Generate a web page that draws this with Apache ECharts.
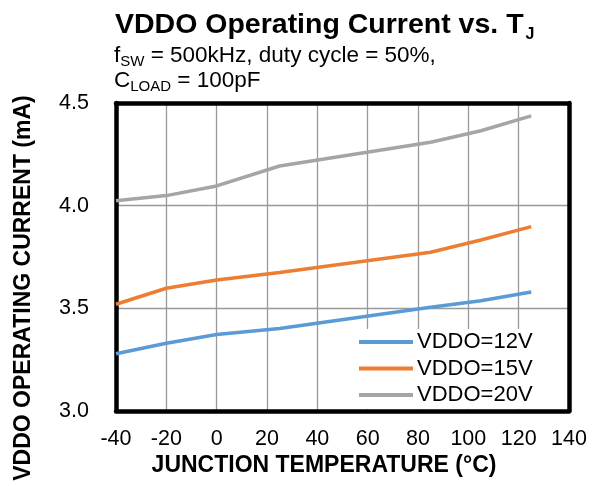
<!DOCTYPE html>
<html><head><meta charset="utf-8">
<script src="https://cdn.jsdelivr.net/npm/echarts@6/dist/echarts.min.js"></script>
<style>html,body{margin:0;padding:0;background:#fff}#c{width:592px;height:486px}</style>
</head><body><div id="c"></div>
<script>
const temps = [-40, -20, 0, 25, 85, 105, 125];
const vddo12 = [3.279, 3.33, 3.373, 3.402, 3.505, 3.537, 3.58];
const vddo15 = [3.52, 3.598, 3.638, 3.675, 3.773, 3.833, 3.898];
const vddo20 = [4.024, 4.049, 4.096, 4.193, 4.309, 4.365, 4.437];
const seriesNames = ['VDDO=12V', 'VDDO=15V', 'VDDO=20V'];
const colors = ['#5B9BD5', '#ED7D31', '#A5A5A5'];
const xTicks = {min: -40, max: 140, interval: 20};
const yTicks = {min: 3.0, max: 4.5, interval: 0.5};

const FONT = '"Liberation Sans", Arial, sans-serif';
const chart = echarts.init(document.getElementById('c'));
const mk = (arr) => temps.map((t, i) => [t, arr[i]]);
const data = [vddo12, vddo15, vddo20];
const frameLine = {show: true, onZero: false, lineStyle: {color: '#000', width: 4.5}};
chart.setOption({
  animation: false,
  textStyle: {fontFamily: FONT},
  title: [{
    left: 110, top: 6,
    text: '{b|VDDO Operating Current vs. T}{j|J}',
    textStyle: {rich: {
      b: {fontFamily: FONT, fontSize: 28.5, fontWeight: 'bold', color: '#000', lineHeight: 32, verticalAlign: 'top'},
      j: {fontFamily: FONT, fontSize: 16, fontWeight: 'bold', color: '#000', lineHeight: 16, padding: [20, 0, 0, 2], verticalAlign: 'bottom'}
    }}
  }, {
    left: 109, top: 39,
    text: '{n|f}{s|SW}{n| = 500kHz, duty cycle = 50%,}\n{n|C}{s|LOAD}{n| = 100pF}',
    textStyle: {rich: {
      n: {fontFamily: FONT, fontSize: 22.5, fontWeight: 'normal', color: '#000', lineHeight: 25, verticalAlign: 'top'},
      s: {fontFamily: FONT, fontSize: 15, fontWeight: 'normal', color: '#000', lineHeight: 16, padding: [11, 0, 0, 0], verticalAlign: 'bottom'}
    }}
  }],
  grid: {left: 116, right: 23, top: 103, bottom: 75},
  legend: {
    data: seriesNames, orient: 'vertical', left: 355, top: 329, icon: 'rect',
    itemWidth: 54, itemHeight: 4, itemGap: 4.5,
    backgroundColor: '#fff', padding: [2, 4, 3, 4],
    textStyle: {fontFamily: FONT, fontSize: 22, color: '#000', padding: [0, 0, 0, -1]}
  },
  graphic: [
    {type: 'text', x: 324, y: 466, style: {text: 'JUNCTION TEMPERATURE (°C)', font: 'bold 23px ' + FONT, fill: '#000', align: 'center', verticalAlign: 'middle'}},
    {type: 'text', x: 24, y: 288, rotation: Math.PI / 2, style: {text: 'VDDO OPERATING CURRENT (mA)', font: 'bold 23px ' + FONT, fill: '#000', align: 'center', verticalAlign: 'middle'}}
  ],
  xAxis: [{
    type: 'value', min: xTicks.min, max: xTicks.max, interval: xTicks.interval,
    axisLine: frameLine, axisTick: {show: false},
    axisLabel: {fontFamily: FONT, fontSize: 21.5, color: '#000', margin: 17},
    splitLine: {show: true, lineStyle: {color: '#999', width: 1.3}}
  }, {
    type: 'value', position: 'top', min: xTicks.min, max: xTicks.max, interval: xTicks.interval,
    axisLine: frameLine, axisTick: {show: false}, axisLabel: {show: false}, splitLine: {show: false}
  }],
  yAxis: [{
    type: 'value', min: yTicks.min, max: yTicks.max, interval: yTicks.interval,
    axisLine: frameLine, axisTick: {show: false},
    axisLabel: {fontFamily: FONT, fontSize: 21.5, color: '#000', margin: 27, formatter: v => v.toFixed(1)},
    splitLine: {show: true, lineStyle: {color: '#999', width: 1.3}}
  }, {
    type: 'value', position: 'right', min: yTicks.min, max: yTicks.max, interval: yTicks.interval,
    axisLine: frameLine, axisTick: {show: false}, axisLabel: {show: false}, splitLine: {show: false}
  }],
  series: seriesNames.map((n, i) => ({
    name: n, type: 'line', data: mk(data[i]), symbol: 'none', showSymbol: false,
    lineStyle: {color: colors[i], width: 3.5}, itemStyle: {color: colors[i]}, z: 3
  }))
});
</script></body></html>
